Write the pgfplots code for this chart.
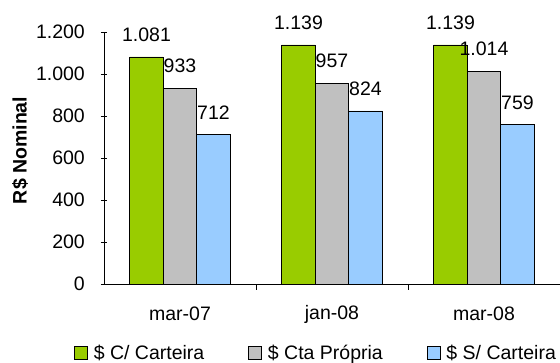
\documentclass[border=0pt]{standalone}
\usepackage{pgfplots}
\pgfplotsset{compat=1.18}
\usepackage{fontspec}
\setmainfont{Liberation Sans}
\definecolor{cgreen}{HTML}{99CC00}
\definecolor{cgray}{HTML}{C0C0C0}
\definecolor{cblue}{HTML}{99CCFF}
\newcommand{\fnt}{\fontsize{19.5}{23}\selectfont}
\begin{document}
\begin{tikzpicture}[font=\fnt]
\useasboundingbox (-104pt,-79pt) rectangle (456pt,284pt);
\begin{axis}[
  at={(0,0)}, anchor=south west,
  scale only axis,
  width=456pt, height=252pt,
  ybar=0pt, bar width=33.5pt,
  xmin=-0.5, xmax=2.5,
  ymin=0, ymax=1200,
  ytick={0,200,...,1200},
  xtick={0,1,2},
  xticklabels={mar-07,jan-08,mar-08},
  major x tick style={draw=none},
  extra x ticks={0.5,1.5,2.5},
  extra x tick labels={},
  extra x tick style={major tick length=6pt, tick align=outside, major x tick style={draw=black}},
  tick align=outside,
  major tick length=6pt,
  axis x line=bottom, axis y line=left,
  axis line style={-, black},
  tick style={black, line width=0.5pt},
  /pgf/number format/.cd, 1000 sep={.}, fixed, assume math mode=true,
  /pgfplots/.cd,
  tick label style={font=\fnt},
  xticklabel style={anchor=center, yshift=-27pt},
  yticklabel style={inner sep=0pt, anchor=east, xshift=-16pt},
  ylabel={\textbf{R\$ Nominal}},
  ylabel style={at={(axis description cs:-0.184,0.53)}, anchor=center, font=\fnt},
  nodes near coords,
  nodes near coords style={anchor=south, inner sep=0pt, yshift=15pt, font=\fnt, /pgf/number format/1000 sep={.}},
  every axis plot/.append style={draw=black, line width=0.6pt},
  legend columns=3,
  legend style={at={(axis description cs:0.465,-0.273)}, anchor=center, draw=none, fill=none, font=\fnt,
    /tikz/every even column/.append style={column sep=42pt},
    /tikz/every odd column/.append style={column sep=4pt}},
  legend image code/.code={\draw[#1, draw=black, line width=0.6pt] (0pt,-6.5pt) rectangle (13pt,6.5pt);},
]
\addplot[fill=cgreen] coordinates {(0,1081) (1,1139) (2,1139)};
\addplot[fill=cgray] coordinates {(0,933) (1,957) (2,1014)};
\addplot[fill=cblue] coordinates {(0,712) (1,824) (2,759)};
\legend{\$ C/ Carteira, \$ Cta Própria, \$ S/ Carteira}
\end{axis}
\end{tikzpicture}
\end{document}
